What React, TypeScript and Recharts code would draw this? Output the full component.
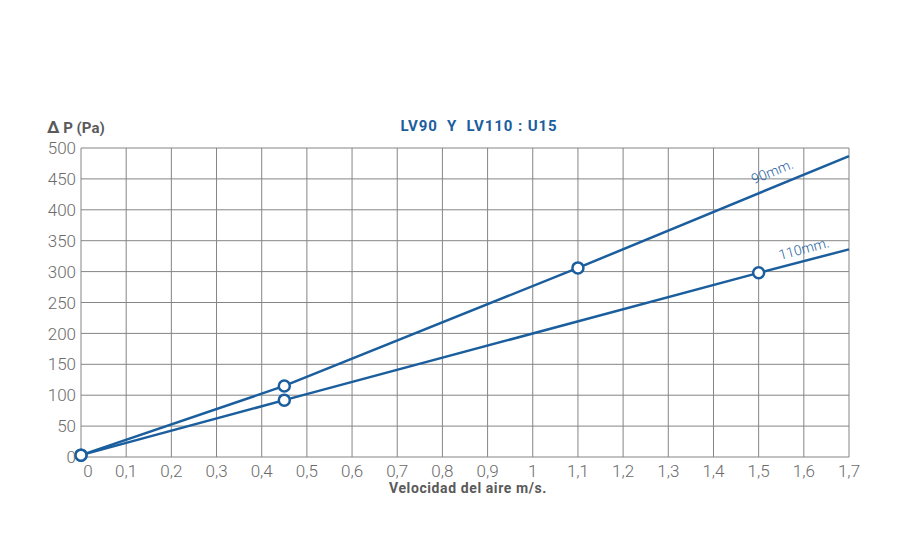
import React from "react";
import { LineChart, Line, XAxis, YAxis, CartesianGrid, ReferenceDot } from "recharts";

const xTicks = [0, 0.1, 0.2, 0.3, 0.4, 0.5, 0.6, 0.7, 0.8, 0.9, 1, 1.1, 1.2, 1.3, 1.4, 1.5, 1.6, 1.7];
const yTicks = [0, 50, 100, 150, 200, 250, 300, 350, 400, 450, 500];

const s90X = [0, 0.45, 1.1, 1.7];
const s90Y = [3, 115, 306, 487];
const s90Marked = [true, true, true, false];

const s110X = [0, 0.45, 1.5, 1.7];
const s110Y = [3, 92, 298, 336];
const s110Marked = [true, true, true, false];

const data90 = s90X.map((x, i) => ({ x, y: s90Y[i], m: s90Marked[i] }));
const data110 = s110X.map((x, i) => ({ x, y: s110Y[i], m: s110Marked[i] }));

const BLUE = "#1b5e9e";
const GRID = "#858585";
const TICK = "#6b6b6b";
const FONT = "Roboto, 'Noto Sans', sans-serif";

const Dot = (props: any) => {
  const { cx, cy, payload, index } = props;
  if (!payload || !payload.m) return <g key={"d" + index} />;
  return <circle key={"d" + index} cx={cx} cy={cy} r={5.5} fill="#fff" stroke={BLUE} strokeWidth={2.5} />;
};

const XTick = (props: any) => {
  const { x, y, payload } = props;
  const v = payload.value;
  const label = String(v).replace(".", ",");
  return (
    <text x={x + (v === 0 ? 7 : 0)} y={y} dy="0.8em" textAnchor="middle" fill={TICK} fontSize={17} fontWeight={300} fontFamily={FONT}>
      {label}
    </text>
  );
};

const YTick = (props: any) => {
  const { x, y, payload } = props;
  return (
    <text x={x} y={y} dy="0.36em" textAnchor="end" fill={TICK} fontSize={17} fontWeight={300} fontFamily={FONT}>
      {payload.value}
    </text>
  );
};

const lineLabel = (text: string, angle: number) => (props: any) => {
  const vb = props.viewBox || {};
  const cx = vb.x + (vb.width || 0) / 2;
  const cy = vb.y + (vb.height || 0) / 2;
  return (
    <text x={cx} y={cy} textAnchor="middle" dy="0.35em" fill={BLUE} fontSize={14} fontWeight={300} fontFamily={FONT} transform={`rotate(${angle} ${cx} ${cy})`}>
      {text}
    </text>
  );
};

export default function App() {
  return (
    <div style={{ width: 892, height: 533, position: "relative", fontFamily: FONT }}>
      <LineChart width={892} height={533} margin={{ top: 140, right: 51, left: 13, bottom: 54 }}>
        <CartesianGrid stroke={GRID} strokeWidth={1} vertical horizontal />
        <XAxis
          type="number"
          dataKey="x"
          domain={[0, 1.7]}
          ticks={xTicks}
          interval={0}
          axisLine={false}
          tickLine={false}
          tickSize={0}
          tickMargin={6}
          height={30}
          tick={<XTick />}
          allowDuplicatedCategory={false}
        />
        <YAxis
          type="number"
          domain={[0, 500]}
          ticks={yTicks}
          interval={0}
          axisLine={false}
          tickLine={false}
          tickSize={0}
          tickMargin={5}
          width={60}
          tick={<YTick />}
        />
        <Line data={data90} dataKey="y" type="linear" stroke={BLUE} strokeWidth={2.5} dot={<Dot />} activeDot={false} isAnimationActive={false} />
        <Line data={data110} dataKey="y" type="linear" stroke={BLUE} strokeWidth={2.5} dot={<Dot />} activeDot={false} isAnimationActive={false} />
        <ReferenceDot x={1.53} y={462} r={0} fill="none" stroke="none" label={lineLabel("90mm.", -22)} />
        <ReferenceDot x={1.6} y={337} r={0} fill="none" stroke="none" label={lineLabel("110mm.", -15)} />
      </LineChart>
      <div style={{ position: "absolute", left: 39, top: 109, fontSize: 15, fontWeight: 700, color: "#5a5a5a", whiteSpace: "nowrap" }}>
        <span style={{ fontSize: 17 }}>Δ</span> P (Pa)
      </div>
      <div style={{ position: "absolute", left: 0, width: 942, top: 109, textAlign: "center", fontSize: 15, fontWeight: 700, color: BLUE, whiteSpace: "pre", letterSpacing: 0.9 }}>
        {"LV90  Y  LV110 : U15"}
      </div>
      <div style={{ position: "absolute", left: 0, width: 920, top: 472, textAlign: "center", fontSize: 14, fontWeight: 700, color: "#5a5a5a", whiteSpace: "nowrap", letterSpacing: 0.6 }}>
        Velocidad del aire m/s.
      </div>
    </div>
  );
}
